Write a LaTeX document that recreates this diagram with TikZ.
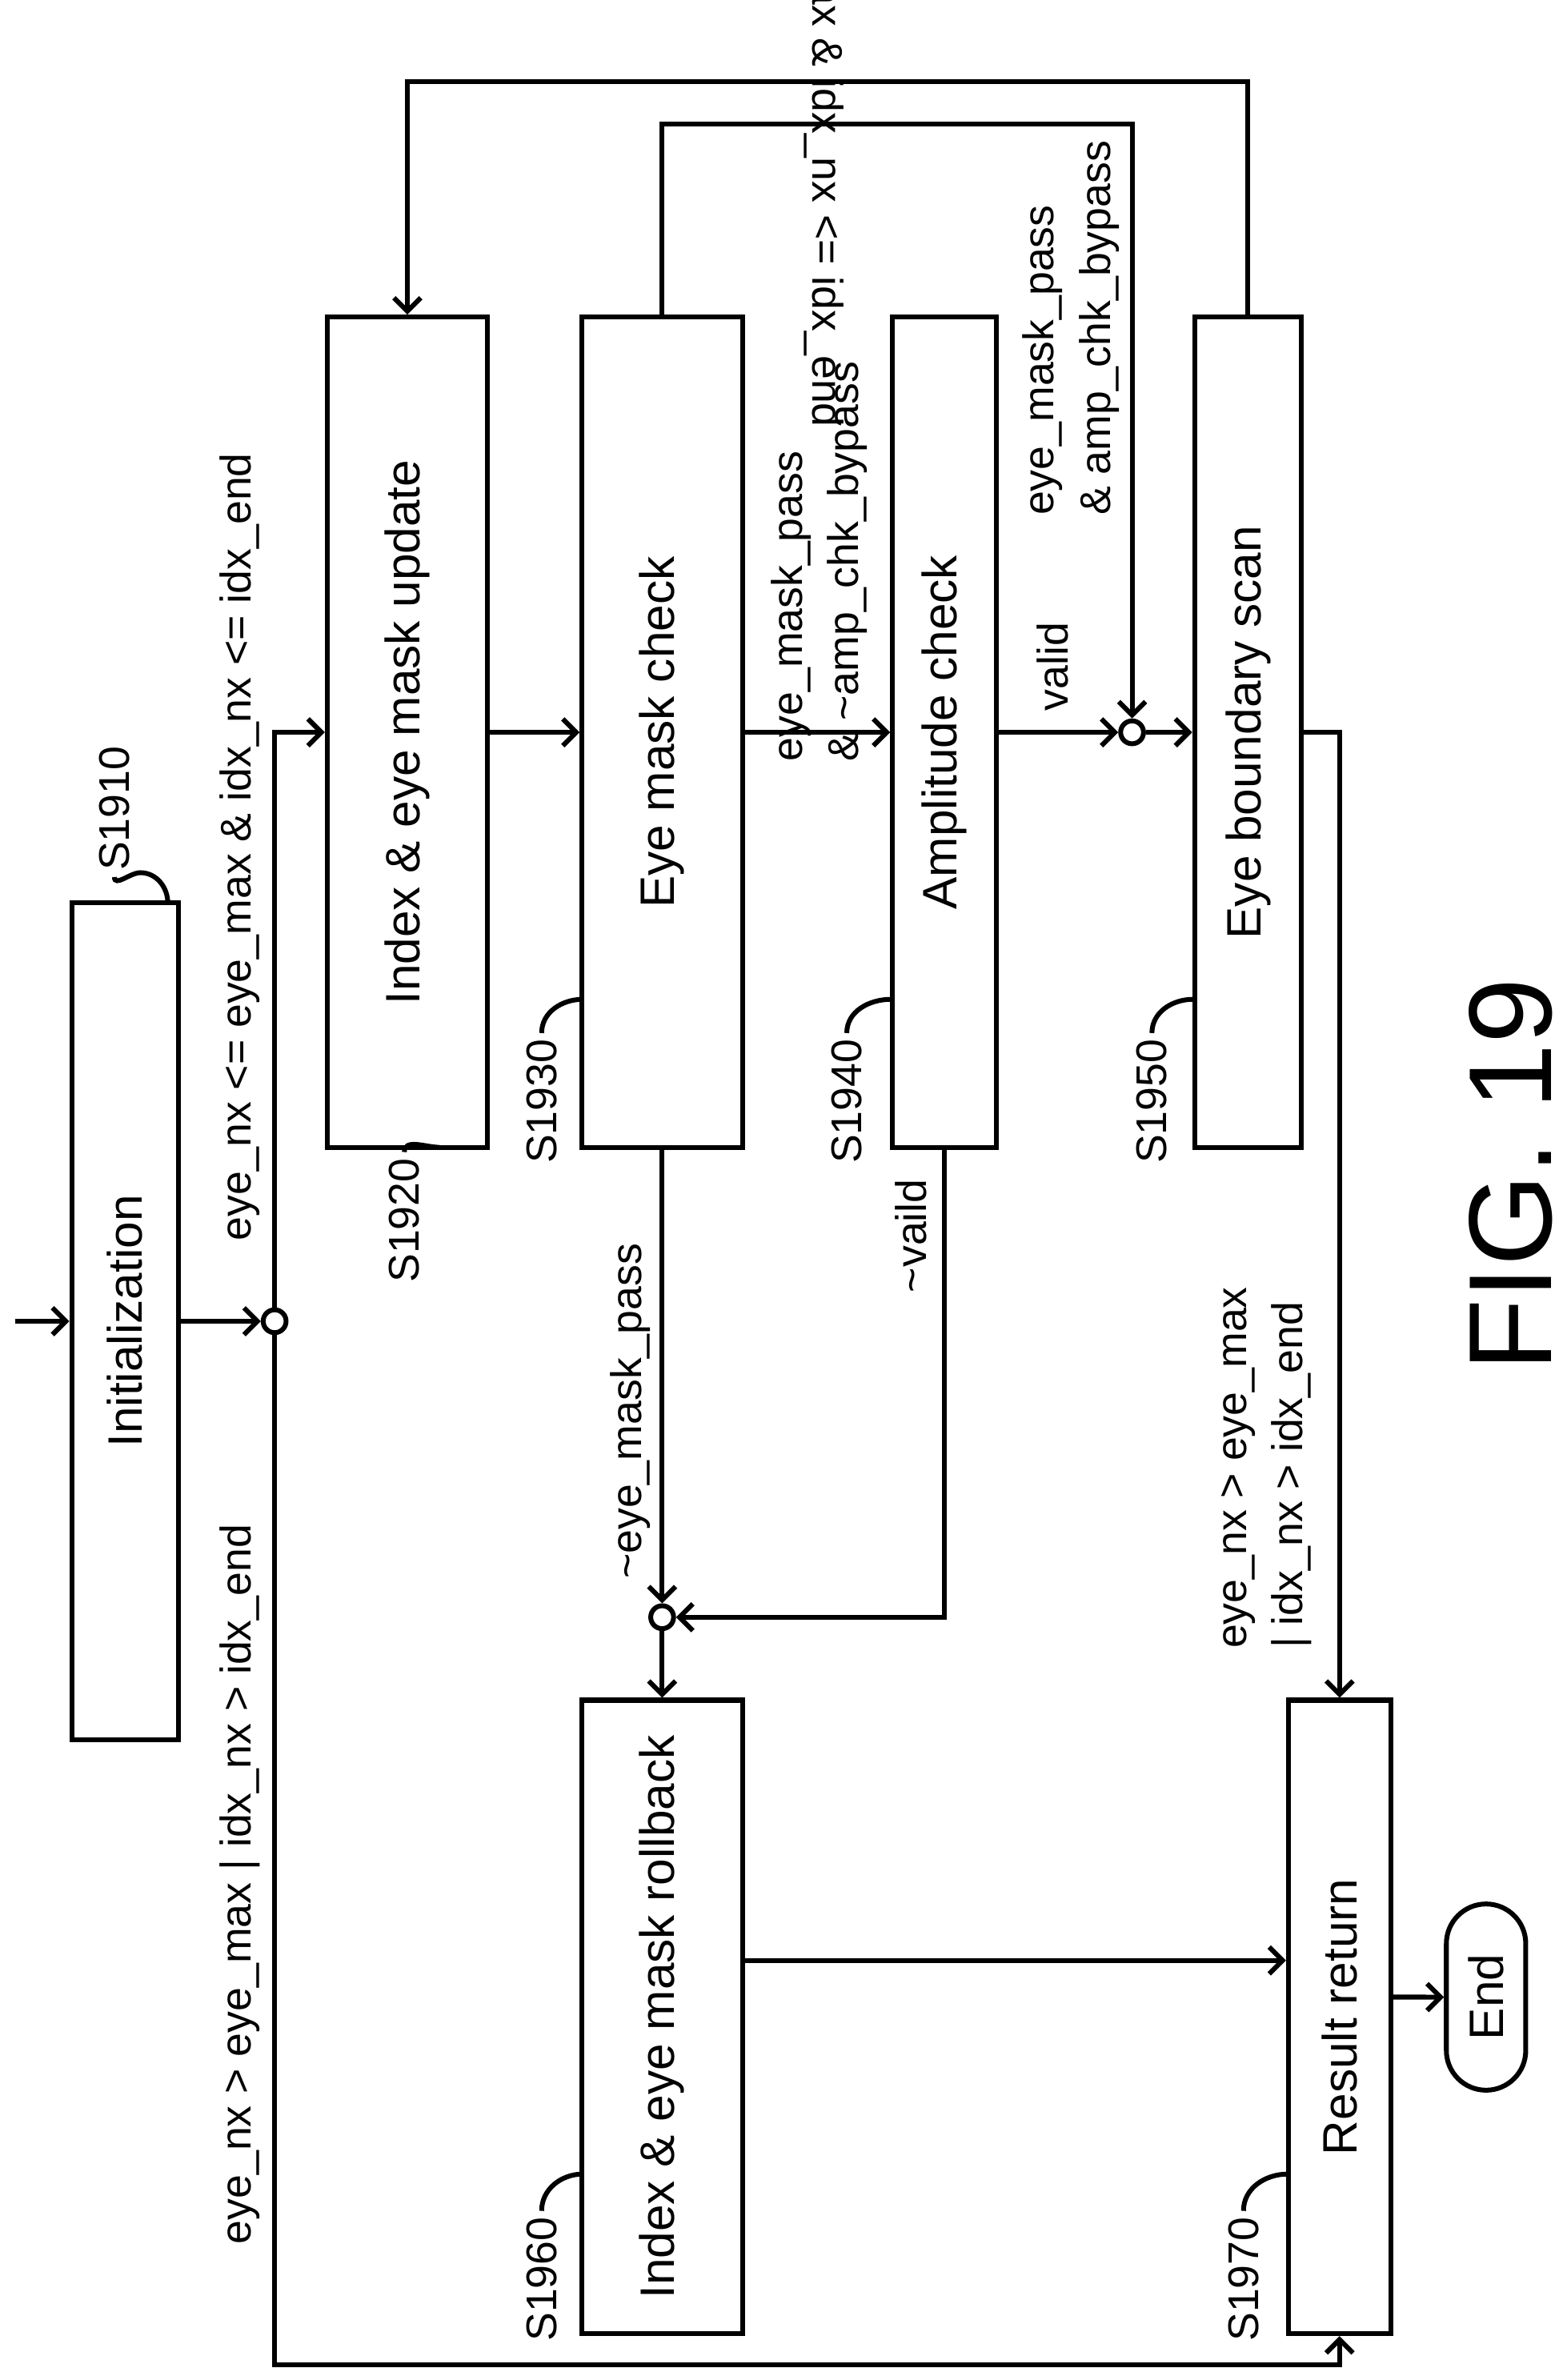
\documentclass[tikz,border=0pt]{standalone}
\usepackage{fontspec}
\setmainfont{Liberation Sans}
\usetikzlibrary{arrows.meta}
\tikzset{
  box/.style={draw, line width=0.9pt, rotate=90, inner sep=0pt, font=\fontsize{9}{11}\selectfont},
  lbl/.style={rotate=90, align=left, inner sep=1pt, font=\fontsize{8}{10.5}\selectfont},
  flipped/.style={rotate=-90, inner sep=1pt, font=\fontsize{8}{10.5}\selectfont},
  steplbl/.style={rotate=90, inner sep=1pt, font=\fontsize{8}{10}\selectfont},
  junc/.style={draw, circle, line width=0.9pt, minimum size=0.15cm, inner sep=0pt},
  arr/.style={line width=0.9pt, -{Straight Barb[length=2.5pt,width=5pt]}},
  ln/.style={line width=0.9pt}
}
\begin{document}
\begin{tikzpicture}[x=0.01cm,y=0.01cm]
\useasboundingbox (0,0) rectangle (1024,-1560);
% Process boxes
\node[box, minimum width=5.48cm, minimum height=0.70cm] (init) at (82,-866) {Initialization};
\node[box, minimum width=5.44cm, minimum height=1.05cm] (s1920) at (267,-480) {Index \& eye mask update};
\node[box, minimum width=5.44cm, minimum height=1.05cm] (s1930) at (434,-480) {Eye mask check};
\node[box, minimum width=5.44cm, minimum height=0.68cm] (s1940) at (619,-480) {Amplitude check};
\node[box, minimum width=5.44cm, minimum height=0.70cm] (s1950) at (818,-480) {Eye boundary scan};
\node[box, minimum width=4.15cm, minimum height=1.05cm] (s1960) at (434,-1322) {Index \& eye mask rollback};
\node[box, minimum width=4.15cm, minimum height=0.67cm] (s1970) at (878,-1322) {Result return};
\node[box, minimum width=1.22cm, minimum height=0.52cm, rounded corners=0.26cm] (end) at (974,-1309) {End};
% Junctions
\node[junc] (j1) at (180,-866) {};
\node[junc] (j2) at (742,-480) {};
\node[junc] (j3) at (434,-1060) {};
% Connectors
\coordinate (in) at (10,-866);
\draw[arr] (in) -- (init.north);
\draw[arr] (init.south) -- (j1);
\draw[arr] (j1.north) |- (s1920.north);
\draw[arr] (j1.south) -- (180,-1550) -| (s1970.west);
\draw[arr] (s1920.south) -- (s1930.north);
\draw[arr] (s1930.south) -- (s1940.north);
\draw[arr] (s1940.south) -- (j2.west);
\draw[arr] (j2.east) -- (s1950.north);
\draw[arr] (s1930.east) -- ++(0,125) -| (j2.north);
\draw[arr] (s1950.east) -- ++(0,153) -| (s1920.east);
\draw[arr] (s1930.west) -- (j3.north);
\draw[arr] (s1940.west) |- (j3.east);
\draw[arr] (j3.south) -- (s1960.east);
\draw[arr] ([yshift=0.37cm]s1960.south) -- ([yshift=0.37cm]s1970.north);
\draw[arr] (s1950.south) -| (s1970.east);
\draw[arr] ([yshift=0.13cm]s1970.south) -- (end.north);
% Condition labels
\node[lbl] (c1) at (157,-555) {eye\_nx <= eye\_max \& idx\_nx <= idx\_end};
\node[lbl] (c2) at (157,-1235) {eye\_nx > eye\_max | idx\_nx > idx\_end};
\node[lbl] (c3) at (537,-368) {eye\_mask\_pass\\\& \textasciitilde amp\_chk\_bypass};
\node[lbl] (c4) at (702,-215) {eye\_mask\_pass\\\& amp\_chk\_bypass};
\node[lbl] (c5) at (690,-437) {valid};
\node[flipped] (c6) at (540,-22) {eye\_nx <= eye\_max \& idx\_nx <= idx\_end};
\node[lbl] (c7) at (413,-925) {\textasciitilde eye\_mask\_pass};
\node[lbl] (c8) at (597,-810) {\textasciitilde vaild};
\node[lbl] (c9) at (830,-962) {eye\_nx > eye\_max\\| idx\_nx > idx\_end};
% Step labels
\node[steplbl] (l1910) at (75,-530) {S1910};
\draw[ln] (l1910.west) to[out=-90,in=180] (92,-572) to[out=0,in=90] (110,-592);
\node[steplbl] (l1920) at (265,-800) {S1920};
\draw[ln] (l1920.east) to[out=90,in=180] (288,-752);
\node[steplbl] (l1930) at (355,-722) {S1930};
\draw[ln] (l1930.east) to[out=90,in=180] (382,-655);
\node[steplbl] (l1940) at (555,-722) {S1940};
\draw[ln] (l1940.east) to[out=90,in=180] (584,-655);
\node[steplbl] (l1950) at (755,-722) {S1950};
\draw[ln] (l1950.east) to[out=90,in=180] (782,-655);
\node[steplbl] (l1960) at (355,-1494) {S1960};
\draw[ln] (l1960.east) to[out=90,in=180] (382,-1425);
\node[steplbl] (l1970) at (815,-1494) {S1970};
\draw[ln] (l1970.east) to[out=90,in=180] (844,-1425);
% Figure caption
\node[rotate=90, font=\fontsize{22}{26}\selectfont] (fig) at (990,-770) {FIG. 19};
\end{tikzpicture}
\end{document}
